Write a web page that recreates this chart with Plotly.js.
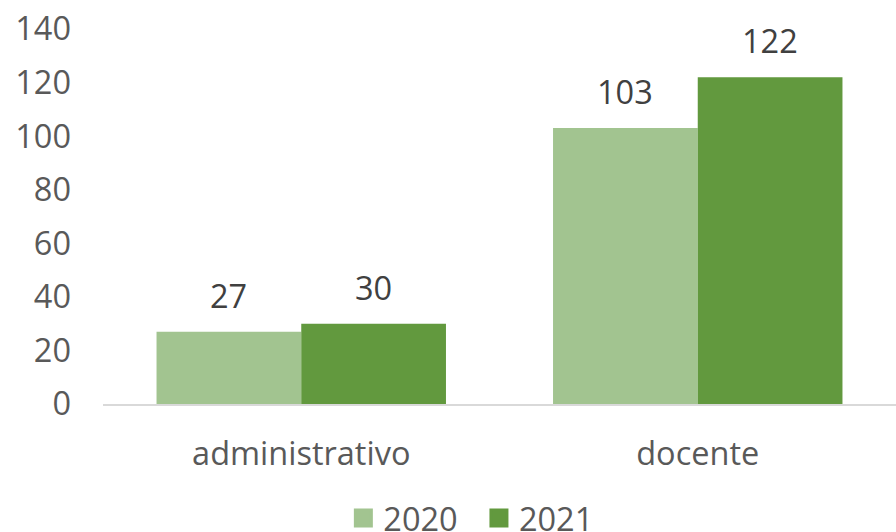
<!DOCTYPE html>
<html><head><meta charset="utf-8">
<script src="https://cdn.plot.ly/plotly-3.0.1.min.js"></script>
<style>html,body{margin:0;padding:0;background:#fff}#c{width:896px;height:532px}</style>
</head><body><div id="c"></div>
<script>
const categories = ["administrativo", "docente"];
const series2020 = [27, 103];
const series2021 = [30, 122];
const seriesNames = ["2020", "2021"];
const seriesColors = ["#a2c490", "#62993e"];
const yTicks = [0, 20, 40, 60, 80, 100, 120, 140];

const font = "'Open Sans', Carlito, Calibri, sans-serif";
const FS = 32.5;
const allSeries = [series2020, series2021];
const traces = allSeries.map((vals, i) => ({
  type:"bar", name:seriesNames[i], x:categories, y:vals,
  marker:{color:seriesColors[i]}, showlegend:false, hoverinfo:"skip"
}));
// legend proxies with bigger square swatches
allSeries.forEach((vals, i) => traces.push({
  type:"scatter", mode:"markers", name:seriesNames[i] + "\u2002", x:[categories[0]], y:[null],
  marker:{symbol:"square", size:16, color:seriesColors[i], line:{color:seriesColors[i], width:3}},
  showlegend:true
}));
// data labels from the values
const annotations = [];
allSeries.forEach((vals, i) => vals.forEach((v, j) => annotations.push({
  x:categories[j], y:v, xref:"x", yref:"y", text:String(v), showarrow:false,
  xanchor:"center", yanchor:"bottom", xshift:(i === 0 ? -72.5 : 72.5), yshift:12,
  font:{family:font, size:FS, color:"#404040"}
})));
const layout = {
  width:896, height:532,
  margin:{l:103, r:0, t:29, b:128, autoexpand:false},
  paper_bgcolor:"#ffffff", plot_bgcolor:"#ffffff",
  barmode:"group", bargap:0.27, bargroupgap:0,
  font:{family:font, size:FS, color:"#595959"},
  annotations: annotations,
  xaxis:{type:"category", showline:true, linecolor:"#d9d9d9", linewidth:1.5, automargin:false,
         ticks:"", ticklabelstandoff:20, tickfont:{family:font, size:FS, color:"#595959"},
         showgrid:false, zeroline:false, fixedrange:true},
  yaxis:{range:[0,140], tickvals:yTicks, ticktext:yTicks.map(String), showgrid:false, zeroline:false,
         showline:false, ticks:"", ticklabelstandoff:31, automargin:false,
         tickfont:{family:font, size:FS, color:"#595959"}},
  showlegend:true,
  legend:{orientation:"h", x:0.535, xref:"container", xanchor:"center", y:-0.23, yanchor:"top",
          font:{family:font, size:FS, color:"#595959"}, itemwidth:30, traceorder:"normal",
          bgcolor:"rgba(0,0,0,0)"}
};
Plotly.newPlot("c", traces, layout, {displayModeBar:false, staticPlot:true});
</script>
</body></html>
